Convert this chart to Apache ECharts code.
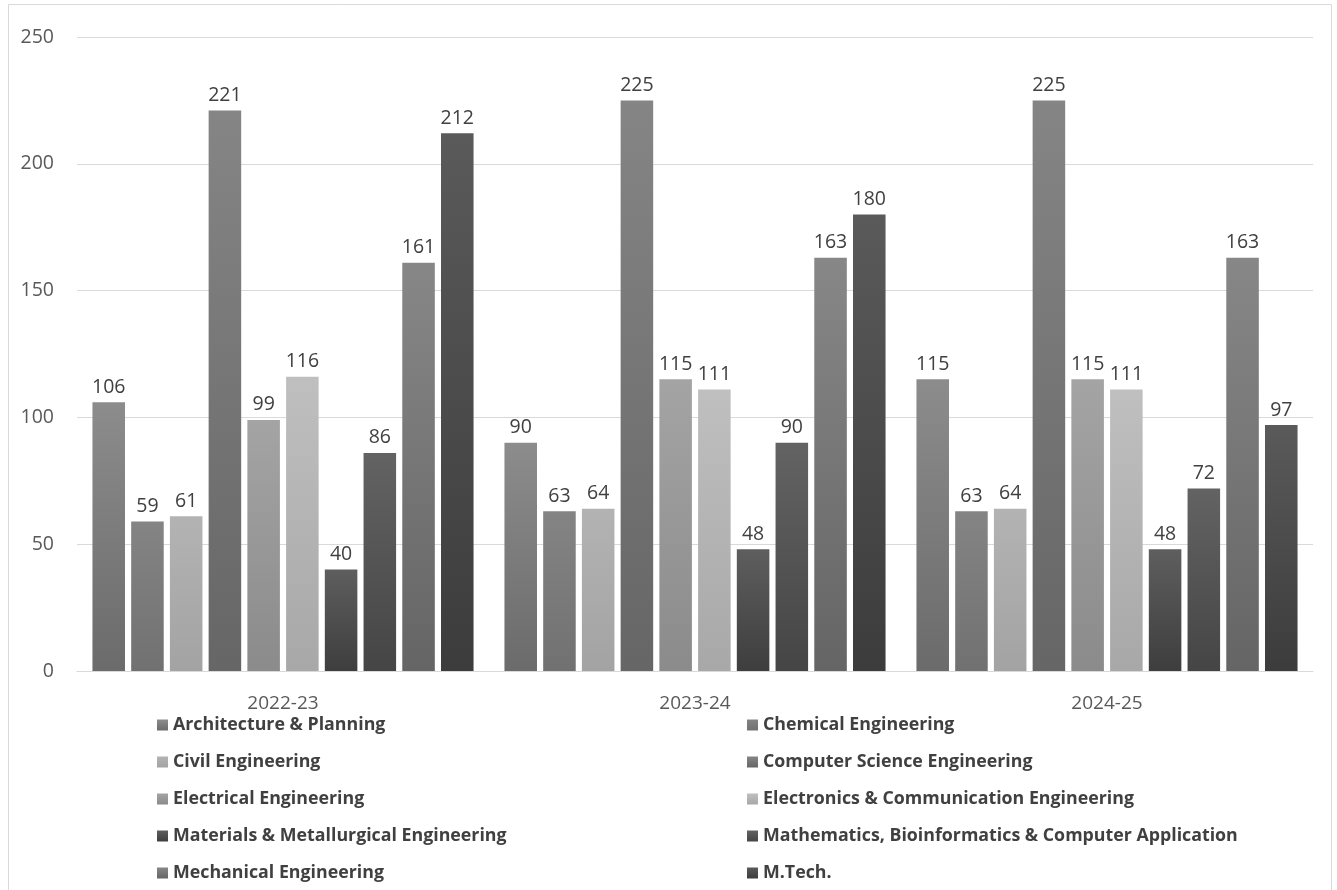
<!DOCTYPE html>
<html>
<head>
<meta charset="utf-8">
<title>Admissions by programme</title>
<script src="https://cdn.jsdelivr.net/npm/echarts@6/dist/echarts.min.js"></script>
<style>
  html, body { margin: 0; padding: 0; background: #ffffff; }
  #chart { width: 1337px; height: 890px; }
</style>
</head>
<body>
<div id="chart"></div>
<script>
// Academic years on the category axis
const years = ['2022-23', '2023-24', '2024-25'];

// Value axis ticks
const yTicks = [0, 50, 100, 150, 200, 250];

// Programme names, in drawing order
const programmes = [
  'Architecture & Planning',
  'Chemical Engineering',
  'Civil Engineering',
  'Computer Science Engineering',
  'Electrical Engineering',
  'Electronics & Communication Engineering',
  'Materials & Metallurgical Engineering',
  'Mathematics, Bioinformatics & Computer Application',
  'Mechanical Engineering',
  'M.Tech.'
];

// Intake per programme, one value per year
const architecture = [106, 90, 115];
const chemical     = [59, 63, 63];
const civil        = [61, 64, 64];
const computerSci  = [221, 225, 225];
const electrical   = [99, 115, 115];
const electronics  = [116, 111, 111];
const materials    = [40, 48, 48];
const mathematics  = [86, 90, 72];
const mechanical   = [161, 163, 163];
const mtech        = [212, 180, 97];

const values = [architecture, chemical, civil, computerSci, electrical,
                electronics, materials, mathematics, mechanical, mtech];

// Grey shades per programme: [top, bottom] of the bar gradient
const shades = [
  ['#8c8c8c', '#6b6b6b'],
  ['#848484', '#717171'],
  ['#b3b3b3', '#a3a3a3'],
  ['#858585', '#666666'],
  ['#a4a4a4', '#8b8b8b'],
  ['#bfbfbf', '#a8a8a8'],
  ['#5e5e5e', '#3e3e3e'],
  ['#636363', '#454545'],
  ['#878787', '#656565'],
  ['#5a5a5a', '#3c3c3c']
];

const numFont = "'Open Sans', 'Liberation Sans', sans-serif";

function grad(pair) {
  return new echarts.graphic.LinearGradient(0, 0, 0, 1, [
    { offset: 0, color: pair[0] },
    { offset: 1, color: pair[1] }
  ]);
}

const series = programmes.map((name, i) => ({
  name: name,
  type: 'bar',
  data: values[i],
  barGap: '19%',
  barCategoryGap: '7.5%',
  itemStyle: { color: grad(shades[i]) },
  label: {
    show: true,
    position: 'top',
    distance: 5,
    color: '#404040',
    fontFamily: numFont,
    fontSize: 19.5
  }
}));

const legendText = {
  color: '#404040',
  fontFamily: "'Open Sans', 'Liberation Sans', sans-serif",
  fontWeight: 'bold',
  fontSize: 17.8,
  lineHeight: 20
};

function legendColumn(left, data) {
  return {
    orient: 'vertical',
    left: left,
    top: 715,
    padding: 0,
    itemWidth: 11,
    itemHeight: 11,
    itemGap: 17,
    icon: 'rect',
    textStyle: legendText,
    data: data
  };
}

const chart = echarts.init(document.getElementById('chart'), null, { renderer: 'canvas' });

chart.setOption({
  animation: false,
  backgroundColor: '#ffffff',
  graphic: [{
    type: 'rect',
    shape: { x: 8.5, y: 4.5, width: 1323, height: 900 },
    style: { fill: 'none', stroke: '#d9d9d9', lineWidth: 1 },
    silent: true,
    z: -1
  }],
  grid: { left: 77, right: 24, top: 37, bottom: 219, containLabel: false },
  legend: [
    legendColumn(157, programmes.filter((_, i) => i % 2 === 0)),
    legendColumn(747, programmes.filter((_, i) => i % 2 === 1))
  ],
  xAxis: {
    type: 'category',
    data: years,
    axisTick: { show: false },
    axisLine: { lineStyle: { color: '#d9d9d9', width: 1 } },
    axisLabel: {
      color: '#595959',
      fontFamily: numFont,
      fontSize: 19,
      margin: 23
    }
  },
  yAxis: {
    type: 'value',
    min: yTicks[0],
    max: yTicks[yTicks.length - 1],
    interval: yTicks[1] - yTicks[0],
    axisLine: { show: false },
    axisTick: { show: false },
    splitLine: { lineStyle: { color: '#d9d9d9', width: 1 } },
    axisLabel: {
      color: '#595959',
      fontFamily: numFont,
      fontSize: 19.5,
      margin: 23
    }
  },
  series: series
});
</script>
</body>
</html>
